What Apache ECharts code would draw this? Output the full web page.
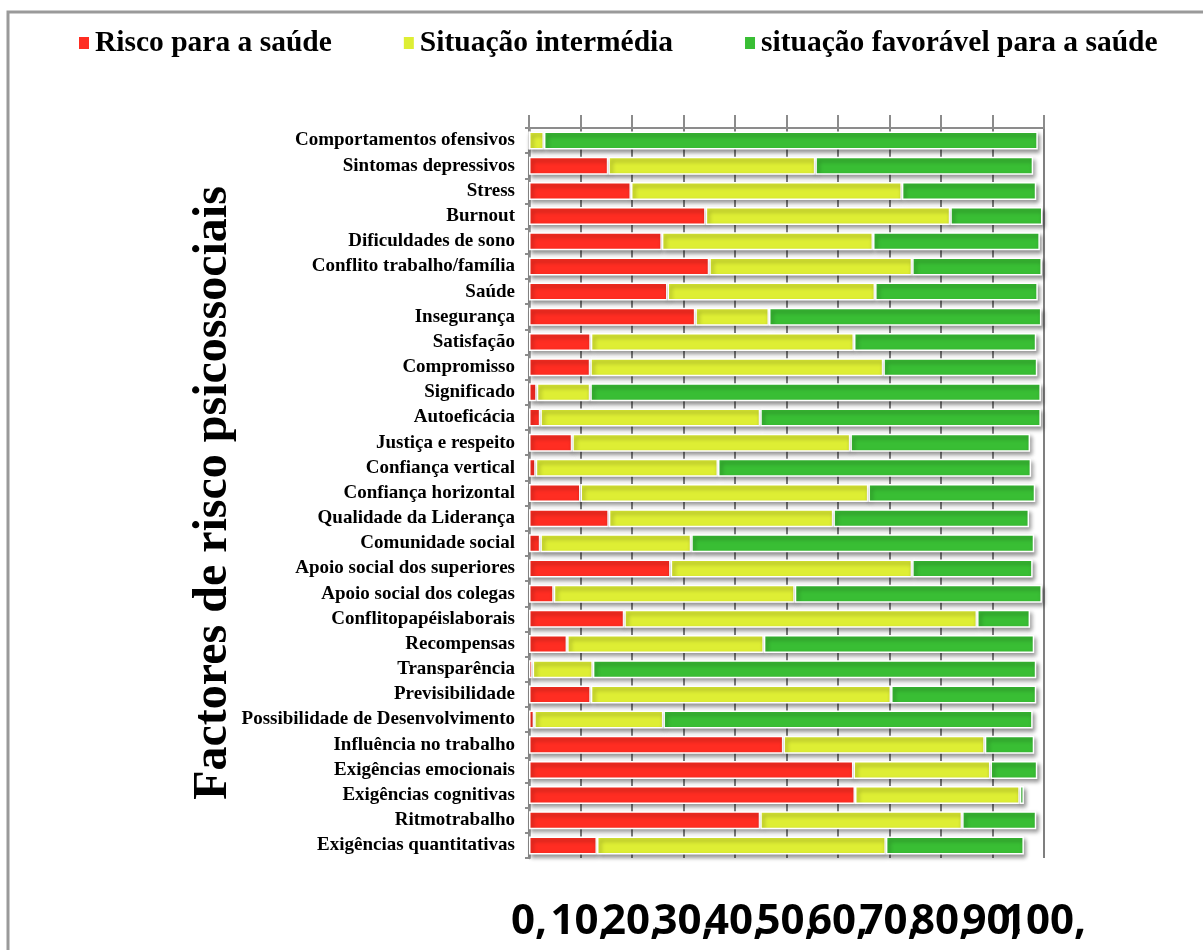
<!DOCTYPE html>
<html>
<head>
<meta charset="utf-8">
<script src="https://cdn.jsdelivr.net/npm/echarts@6/dist/echarts.min.js"></script>
<style>
  html, body { margin: 0; padding: 0; background: #fff; }
  #chart { width: 1203px; height: 950px; }
</style>
</head>
<body>
<div id="chart"></div>
<script>
// categorias, de cima para baixo
let categories = [
  'Comportamentos ofensivos', 'Sintomas depressivos', 'Stress', 'Burnout',
  'Dificuldades de sono', 'Conflito trabalho/família', 'Saúde', 'Insegurança',
  'Satisfação', 'Compromisso', 'Significado', 'Autoeficácia',
  'Justiça e respeito', 'Confiança vertical', 'Confiança horizontal',
  'Qualidade da Liderança', 'Comunidade social', 'Apoio social dos superiores',
  'Apoio social dos colegas', 'Conflitopapéislaborais', 'Recompensas',
  'Transparência', 'Previsibilidade', 'Possibilidade de Desenvolvimento',
  'Influência no trabalho', 'Exigências emocionais', 'Exigências cognitivas',
  'Ritmotrabalho', 'Exigências quantitativas'
]
let risco = [
  0, 15.4, 19.8, 34.3, 25.8, 35.0, 26.9, 32.3, 12.0, 11.9, 1.5, 2.2, 8.4, 1.3, 10.0,
  15.5, 2.2, 27.5, 4.8, 18.5, 7.4, 0.7, 12.0, 1.0, 49.4, 63.0, 63.3, 44.9, 13.2
]
let intermedia = [
  2.9, 40.2, 52.6, 47.5, 41.0, 39.4, 40.3, 14.3, 51.1, 56.9, 10.4, 42.7, 54.0, 35.4, 55.9,
  43.6, 29.3, 46.9, 46.8, 68.5, 38.2, 11.7, 58.3, 25.1, 39.1, 26.6, 32.0, 39.2, 56.1
]
let favoravel = [
  95.9, 42.3, 26.1, 17.9, 32.4, 25.2, 31.6, 52.9, 35.4, 29.9, 87.5, 54.5, 34.9, 60.8, 32.4,
  38.0, 66.6, 23.4, 48.0, 10.3, 52.5, 86.1, 28.2, 71.7, 9.6, 9.1, 0.8, 14.4, 26.8
]
// rótulos do eixo x (de 0 a 100, passo 10)
let tickLabels = ['0,', '10,', '20,', '30,', '40,', '50,', '60,', '70,', '80,', '90,', '100,']
let seriesNames = ['Risco para a saúde', 'Situação intermédia', 'situação favorável para a saúde']
let seriesColors = ['#FF2D22', '#DEEE34', '#39BE34']

;(function () {
  riskChart()
})()

function riskChart() {
  let chart = echarts.init(document.getElementById('chart'))
  let serif = 'Liberation Serif, Times New Roman, serif'
  let barStyle = function (color) {
    return {
      color: color,
      borderColor: '#ffffff',
      borderWidth: 1.5,
      shadowColor: 'rgba(0,0,0,0.4)',
      shadowBlur: 4,
      shadowOffsetX: 2,
      shadowOffsetY: 3,
    }
  }
  let values = [risco, intermedia, favoravel]
  let series = values.map(function (data, i) {
    return {
      name: seriesNames[i],
      type: 'bar',
      stack: 'total',
      barWidth: 18,
      xAxisIndex: 0,
      data: data,
      itemStyle: barStyle(seriesColors[i]),
    }
  })

  let option = {
    animation: false,
    backgroundColor: '#ffffff',
    graphic: [
      {
        type: 'rect',
        shape: { x: 8, y: 12, width: 1210, height: 960 },
        style: { fill: 'none', stroke: '#9a9a9a', lineWidth: 3 },
        silent: true,
      },
    ],
    legend: {
      data: seriesNames,
      left: 72,
      top: 23,
      icon: 'rect',
      itemWidth: 12,
      itemHeight: 14,
      itemGap: 70,
      textStyle: {
        fontFamily: serif,
        fontWeight: 'bold',
        fontSize: 29.5,
        color: '#000',
      },
    },
    grid: {
      left: 529,
      right: 159,
      top: 128,
      bottom: 92,
      containLabel: false,
      outerBoundsMode: 'none',
    },
    xAxis: [
      {
        // eixo de valores (em cima, com a linha e os traços)
        type: 'value',
        position: 'top',
        min: 0,
        max: 100,
        interval: 10,
        axisLine: { show: true, onZero: false, lineStyle: { color: '#8c8c8c', width: 2 } },
        axisTick: { show: true, length: 13, lineStyle: { color: '#8c8c8c', width: 2 } },
        axisLabel: { show: false },
        splitLine: { //网格线
          show: true,
          lineStyle: { color: '#7f7f7f', width: 2 },
        },
      },
      {
        // só os rótulos em baixo
        type: 'category',
        position: 'bottom',
        data: tickLabels,
        boundaryGap: false,
        axisLine: { show: false },
        axisTick: { show: false },
        splitLine: { show: false },
        axisLabel: {
          interval: 0,
          margin: 43,
          fontFamily: 'Open Sans',
          fontWeight: 'bold',
          fontSize: 42,
          color: '#000',
        },
      },
    ],
    yAxis: {
      type: 'category',
      data: categories,
      inverse: true,
      name: 'Factores de risco psicossociais',
      nameLocation: 'middle',
      nameRotate: 90,
      nameGap: 285,
      nameTextStyle: {
        fontFamily: serif,
        fontWeight: 'bold',
        fontSize: 48,
        color: '#000',
      },
      axisLine: { show: true, lineStyle: { color: '#8c8c8c', width: 2.5 } },
      axisTick: { show: true, length: 4, lineStyle: { color: '#8c8c8c', width: 2 } },
      axisLabel: {
        margin: 14,
        fontFamily: serif,
        fontWeight: 'bold',
        fontSize: 19,
        color: '#000',
      },
    },
    series: series,
  }
  chart.setOption(option)
}
</script>
</body>
</html>
